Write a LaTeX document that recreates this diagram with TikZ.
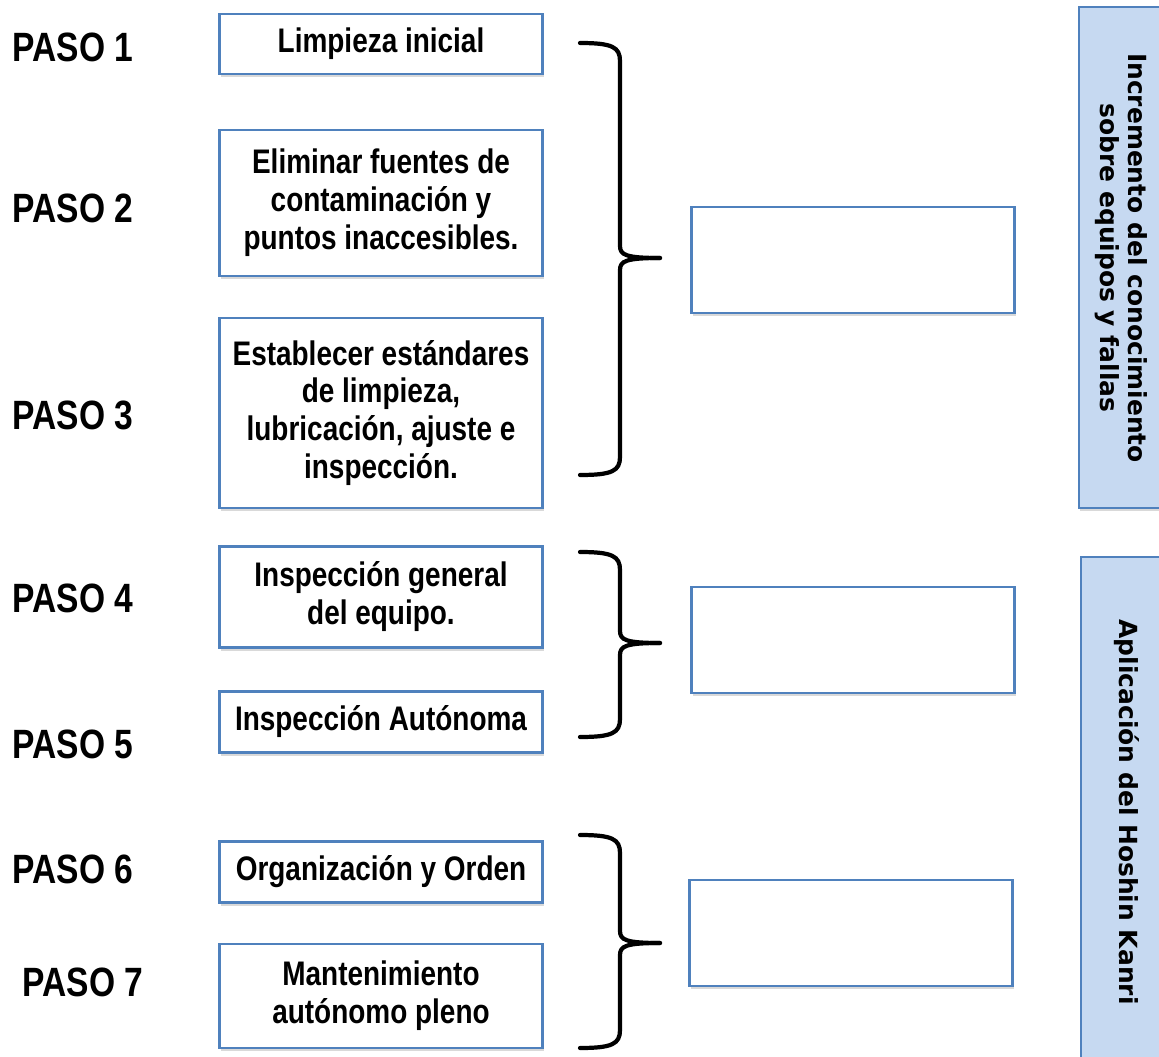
\documentclass[tikz,border=0pt]{standalone}
\usepackage{fontspec}
\setmainfont{Liberation Sans}[FakeStretch=0.82]
\newfontfamily\barfont{DejaVu Sans}
\usetikzlibrary{shadows}
\definecolor{boxblue}{HTML}{4F81BD}
\definecolor{barfill}{HTML}{C6D9F1}
\tikzset{x=0.02cm,y=-0.02cm,
  stepbox/.style={draw=boxblue,line width=1.3pt,fill=white,inner sep=0pt,align=center,
    minimum width=6.46cm,font=\fontsize{19.4}{21.6}\selectfont\bfseries,
    drop shadow={opacity=.3,shadow xshift=.6pt,shadow yshift=-1.8pt}},
  goalbox/.style={stepbox,minimum height=2.12cm},
  pasolabel/.style={inner sep=0pt,font=\fontsize{23.3}{26}\selectfont\bfseries},
  sidebar/.style={draw=boxblue,line width=1.1pt,fill=barfill,
    drop shadow={opacity=.3,shadow xshift=.6pt,shadow yshift=-1.8pt}},
  sidetext/.style={rotate=-90,align=center,inner sep=0pt,
    font=\barfont\bfseries\fontsize{14.2}{16}\selectfont},
  brace/.style={draw=black,line width=2.4pt,line cap=round}}
% curly brace: #1 top, #2 tip, #3 bottom (y in px)
\newcommand\llave[3]{%
  \draw[brace] (580,#1) .. controls (612,#1) and (620,#1+4) .. (620,#1+18) -- (620,#2-12)
    .. controls (620,#2-3) and (626,#2) .. (660,#2);
  \draw[brace] (580,#3) .. controls (612,#3) and (620,#3-4) .. (620,#3-18) -- (620,#2+12)
    .. controls (620,#2+3) and (626,#2) .. (660,#2);}

\begin{document}
\begin{tikzpicture}
\useasboundingbox (0,0) rectangle (1159,1057);
\node[pasolabel] (p1) at (73,47) {PASO 1};
\node[pasolabel] (p2) at (73,208) {PASO 2};
\node[pasolabel] (p3) at (73,415) {PASO 3};
\node[pasolabel] (p4) at (73,598) {PASO 4};
\node[pasolabel] (p5) at (73,744) {PASO 5};
\node[pasolabel] (p6) at (73,869) {PASO 6};
\node[pasolabel] (p7) at (83,982) {PASO 7};
\node[stepbox,minimum height=1.2cm] (s1) at (381,44) {Limpieza inicial};
\node[stepbox,minimum height=2.92cm] (s2) at (381,203) {Eliminar fuentes de\\contaminación y\\puntos inaccesibles.};
\node[stepbox,minimum height=3.8cm] (s3) at (381,413) {Establecer estándares\\de limpieza,\\lubricación, ajuste e\\inspección.};
\node[stepbox,minimum height=2.02cm] (s4) at (381,597) {Inspección general\\del equipo.};
\node[stepbox,minimum height=1.22cm] (s5) at (381,722) {Inspección Autónoma};
\node[stepbox,minimum height=1.22cm] (s6) at (381,872) {Organización y Orden};
\node[stepbox,minimum height=2.08cm] (s7) at (381,996) {Mantenimiento\\autónomo pleno};
\llave{43}{258}{475}
\llave{552}{643}{737}
\llave{835}{943}{1048}
\node[goalbox] (g1) at (853,260) {};
\node[goalbox] (g2) at (853,640) {};
\node[goalbox] (g3) at (851,933) {};
\draw[sidebar] (1079,7) rectangle (1180,508);
\draw[sidebar] (1081,557) rectangle (1180,1080);
\node[sidetext] (t1) at (1121,258) {Incremento del conocimiento\\sobre equipos y fallas};
\node[sidetext] (t2) at (1127,812) {Aplicación del Hoshin Kanri};
\end{tikzpicture}
\end{document}
